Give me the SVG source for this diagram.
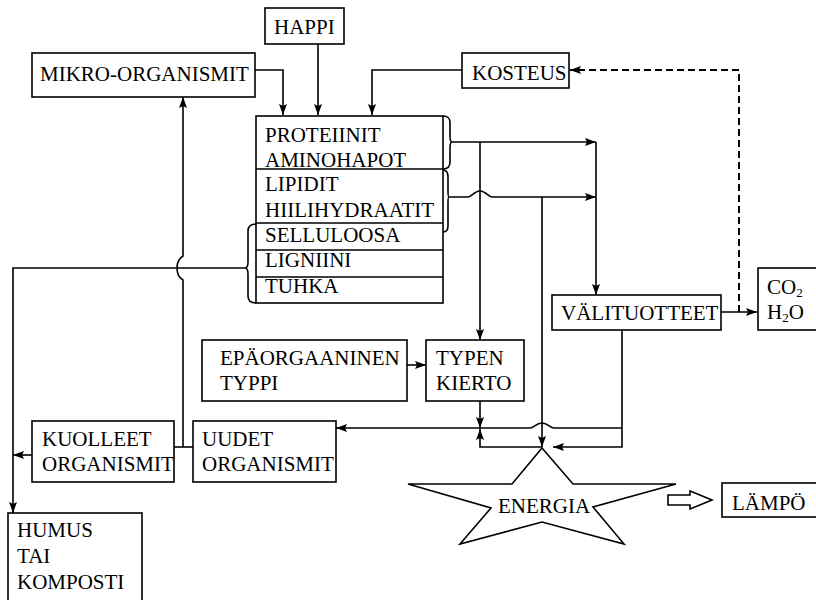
<svg xmlns="http://www.w3.org/2000/svg" width="816" height="600" viewBox="0 0 816 600">
<defs>
<marker id="ah" markerWidth="12" markerHeight="10" refX="11" refY="5" orient="auto" markerUnits="userSpaceOnUse">
<path d="M0,1 L11,5 L0,9 L2,5 Z" fill="#000"/>
</marker>
<style>
text{font-family:"Liberation Serif","Times New Roman",serif;font-size:21px;fill:#000}
.box{fill:#fff;stroke:#000;stroke-width:1.6}
.ln{fill:none;stroke:#000;stroke-width:1.6}
.arr{fill:none;stroke:#000;stroke-width:1.6;marker-end:url(#ah)}
.dash{fill:none;stroke:#000;stroke-width:2;stroke-dasharray:7 4;marker-end:url(#ah)}
.sub{font-size:13px}
</style>
</defs>
<rect width="816" height="600" fill="#fff"/>

<g id="connectors">
<path class="arr" d="M255,70 H283 V115"/>
<path class="arr" d="M318,44 V115"/>
<path class="arr" d="M462,70 H372 V115"/>
<path class="dash" d="M739,312 V70 H570"/>
<path class="arr" d="M721,312 H757"/>
<path class="arr" d="M452,142 H596"/>
<path class="arr" d="M596,142 V295"/>
<path class="arr" d="M449,197 H468 C472,197 474,191 480,191 C486,191 488,197 492,197 H596"/>
<path class="arr" d="M480,142 V340"/>
<path class="arr" d="M542,197 V447"/>
<path class="arr" d="M245,268 H13 V513"/>
<path class="arr" d="M183,447 V280 C178,277 177,272 177,268 C177,264 178,259 183,256 V97"/>
<path class="ln" d="M174,447 H193"/>
<path class="arr" d="M32,455 H13"/>
<path class="arr" d="M407,365 H426"/>
<path class="arr" d="M480,401 V428"/>
<path class="arr" d="M622,330 V447 H553"/>
<path class="arr" d="M622,428 H554 C550,428 548,423 542,423 C536,423 534,428 530,428 H336"/>
<path class="arr" d="M542,447 H480 V429"/>
<path class="box" d="M668,495 H690 V491 L712,500 L690,509 V505 H668 Z"/>
</g>

<g id="happi">
<rect class="box" x="265" y="8" width="79" height="36"/>
<text x="274" y="34">HAPPI</text>
</g>

<g id="mikro">
<rect class="box" x="32" y="53" width="223" height="44"/>
<text x="40" y="81">MIKRO-ORGANISMIT</text>
</g>

<g id="kosteus">
<rect class="box" x="462" y="53" width="107" height="35"/>
<text x="472" y="80">KOSTEUS</text>
</g>

<g id="aineet">
<rect class="box" x="256" y="116" width="187" height="187"/>
<path class="ln" d="M256,169 H443 M256,223 H443 M256,250 H443 M256,277 H443"/>
<text x="265" y="142">PROTEIINIT</text>
<text x="265" y="167">AMINOHAPOT</text>
<text x="265" y="191">LIPIDIT</text>
<text x="265" y="217">HIILIHYDRAATIT</text>
<text x="265" y="242">SELLULOOSA</text>
<text x="265" y="267">LIGNIINI</text>
<text x="265" y="293">TUHKA</text>
<path class="ln" d="M443,116 C449,116 450,119 450,123 V136 C450,140 451,142 452,142 C451,142 450,144 450,148 V162 C450,167 448,169 443,169"/>
<path class="ln" d="M443,170 C447,170 448,173 448,177 V191 C448,195 448,197 449,197 C448,197 448,199 448,203 V226 C448,230 446,232 443,232"/>
<path class="ln" d="M256,224 C250,224 248,227 248,231 V262 C248,266 247,268 245,268 C247,268 248,270 248,274 V296 C248,300 250,303 256,303"/>
</g>

<g id="valituotteet">
<rect class="box" x="552" y="295" width="169" height="35"/>
<text x="561" y="320">VÄLITUOTTEET</text>
</g>

<g id="co2">
<rect class="box" x="758" y="268" width="62" height="62"/>
<text x="767" y="294">CO<tspan class="sub" dy="3">2</tspan></text>
<text x="767" y="319">H<tspan class="sub" dy="3">2</tspan><tspan dy="-3">O</tspan></text>
</g>

<g id="epaorg">
<rect class="box" x="202" y="340" width="205" height="61"/>
<text x="220" y="365">EPÄORGAANINEN</text>
<text x="220" y="390">TYPPI</text>
</g>

<g id="typen">
<rect class="box" x="426" y="340" width="98" height="61"/>
<text x="436" y="365">TYPEN</text>
<text x="436" y="390">KIERTO</text>
</g>

<g id="kuolleet">
<rect class="box" x="32" y="421" width="142" height="61"/>
<text x="42" y="446">KUOLLEET</text>
<text x="42" y="471">ORGANISMIT</text>
</g>

<g id="uudet">
<rect class="box" x="193" y="421" width="143" height="61"/>
<text x="202" y="446">UUDET</text>
<text x="202" y="471">ORGANISMIT</text>
</g>

<g id="humus">
<rect class="box" x="8" y="513" width="134" height="100"/>
<text x="17" y="537">HUMUS</text>
<text x="17" y="563">TAI</text>
<text x="17" y="589">KOMPOSTI</text>
</g>

<g id="energia">
<polygon class="box" points="542,448 573,484 676,484 593,507 624,544 542,522 460,544 491,508 408,484 512,484"/>
<text x="544" y="513" text-anchor="middle">ENERGIA</text>
</g>

<g id="lampo">
<rect class="box" x="722" y="483" width="98" height="34"/>
<text x="732" y="510">LÄMPÖ</text>
</g>
</svg>
